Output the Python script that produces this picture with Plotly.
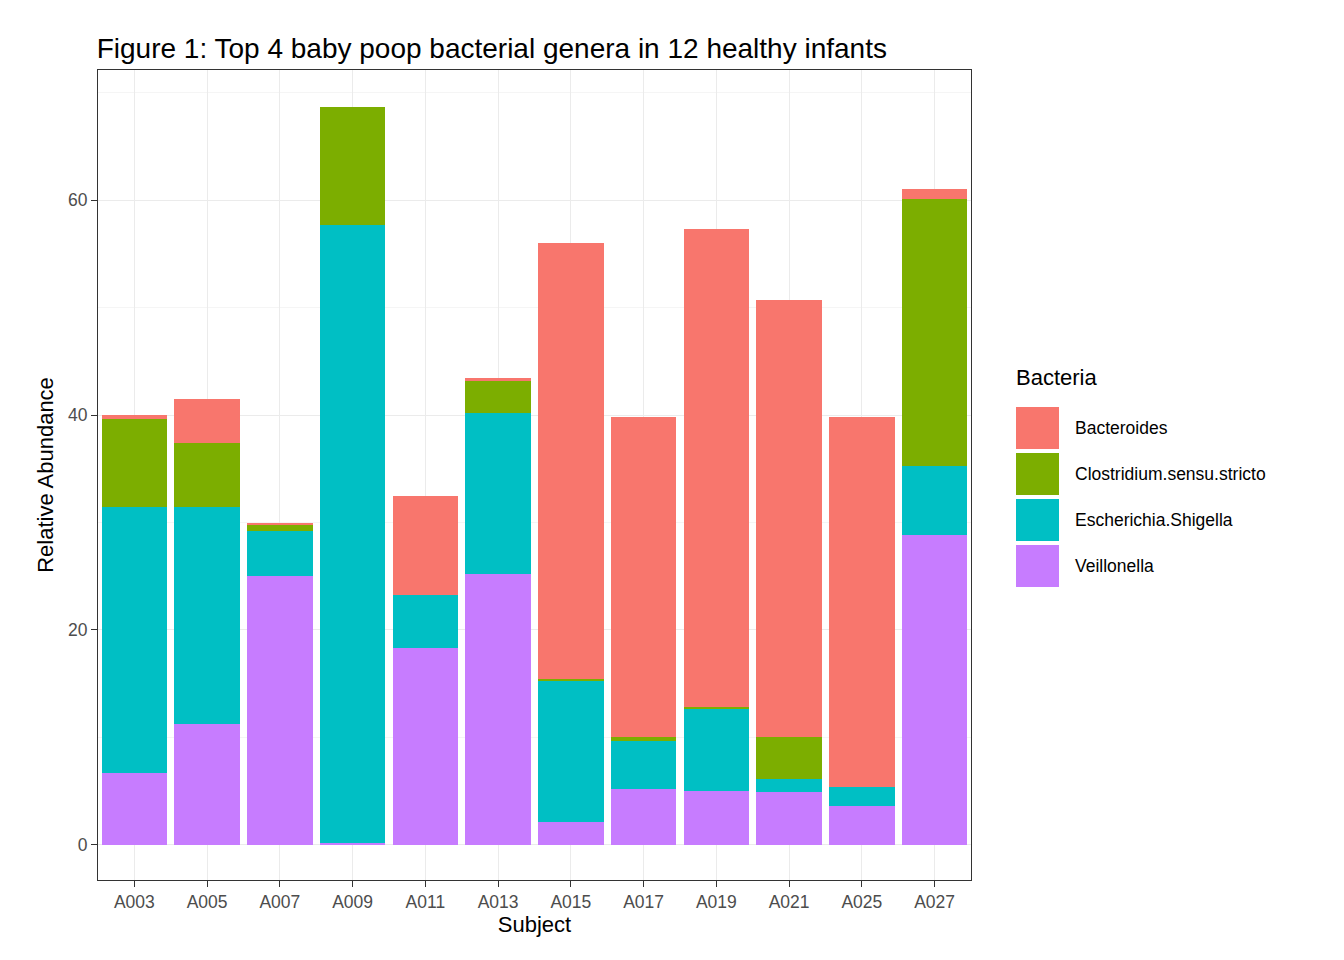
import plotly.graph_objects as go

subjects = ["A003", "A005", "A007", "A009", "A011", "A013",
            "A015", "A017", "A019", "A021", "A025", "A027"]
veillonella = [6.7, 11.3, 25.0, 0.2, 18.3, 25.2, 2.1, 5.2, 5.0, 4.9, 3.6, 28.8]
escherichia = [24.7, 20.1, 4.2, 57.5, 5.0, 15.0, 13.2, 4.5, 7.7, 1.2, 1.8, 6.5]
clostridium = [8.2, 6.0, 0.6, 11.0, 0.0, 3.0, 0.1, 0.3, 0.1, 3.9, 0.0, 24.8]
bacteroides = [0.4, 4.1, 0.2, 0.0, 9.2, 0.2, 40.6, 29.8, 44.5, 40.7, 34.4, 0.9]

series = [
    ("Veillonella", veillonella, "#C77CFF"),
    ("Escherichia.Shigella", escherichia, "#00BFC4"),
    ("Clostridium.sensu.stricto", clostridium, "#7CAE00"),
    ("Bacteroides", bacteroides, "#F8766D"),
]

fig = go.Figure()
for name, vals, col in series:
    fig.add_trace(go.Bar(x=subjects, y=vals, name=name, marker_color=col,
                         marker_line_width=0, width=0.9, showlegend=False))

# hand-drawn ggplot style legend (plot area: x 90-963 px, y 62-872 px)
def px_x(p):
    return (p - 90) / 873

def px_y(p):
    return (872 - p) / 810

fig.add_annotation(x=px_x(1006), y=px_y(370), xref="paper", yref="paper",
                   text="Bacteria", showarrow=False, xanchor="left",
                   font=dict(size=22, color="black"))
for i, (name, vals, col) in enumerate(reversed(series)):
    top = 399 + 46 * i
    fig.add_shape(type="rect", xref="paper", yref="paper",
                  x0=px_x(1008), x1=px_x(1051), y0=px_y(top + 42), y1=px_y(top),
                  fillcolor=col, line_width=0)
    fig.add_annotation(x=px_x(1065), y=px_y(top + 21), xref="paper", yref="paper",
                       text=name, showarrow=False, xanchor="left",
                       font=dict(size=17.5, color="black"))

fig.update_layout(
    barmode="stack", template="plotly_white",
    width=1344, height=960,
    font=dict(family="Liberation Sans, Arial", size=17.5, color="#4D4D4D"),
    title=dict(text="Figure 1: Top 4 baby poop bacterial genera in 12 healthy infants",
               x=0.066, y=0.968, xanchor="left", font=dict(size=28, color="black")),
    margin=dict(l=90, r=381, t=62, b=88, autoexpand=False),
    plot_bgcolor="white",
    bargap=0.1,
)
fig.update_xaxes(title=dict(text="Subject", font=dict(size=22, color="black"), standoff=4),
                 showline=True, linecolor="#333", mirror=True, ticks="outside",
                 tickcolor="#333", ticklen=6, showgrid=True, gridcolor="#EBEBEB",
                 automargin=False)
fig.update_yaxes(title=dict(text="Relative Abundance", font=dict(size=22, color="black"),
                            standoff=8),
                 range=[-3.26, 72.1], tickvals=[0, 20, 40, 60], showline=True,
                 linecolor="#333", mirror=True, ticks="outside", tickcolor="#333",
                 ticklen=6, gridcolor="#EBEBEB", zeroline=False, automargin=False,
                 minor=dict(tickvals=[10, 30, 50, 70], showgrid=True, gridcolor="#F5F5F5"))

fig.write_html("out.html")
